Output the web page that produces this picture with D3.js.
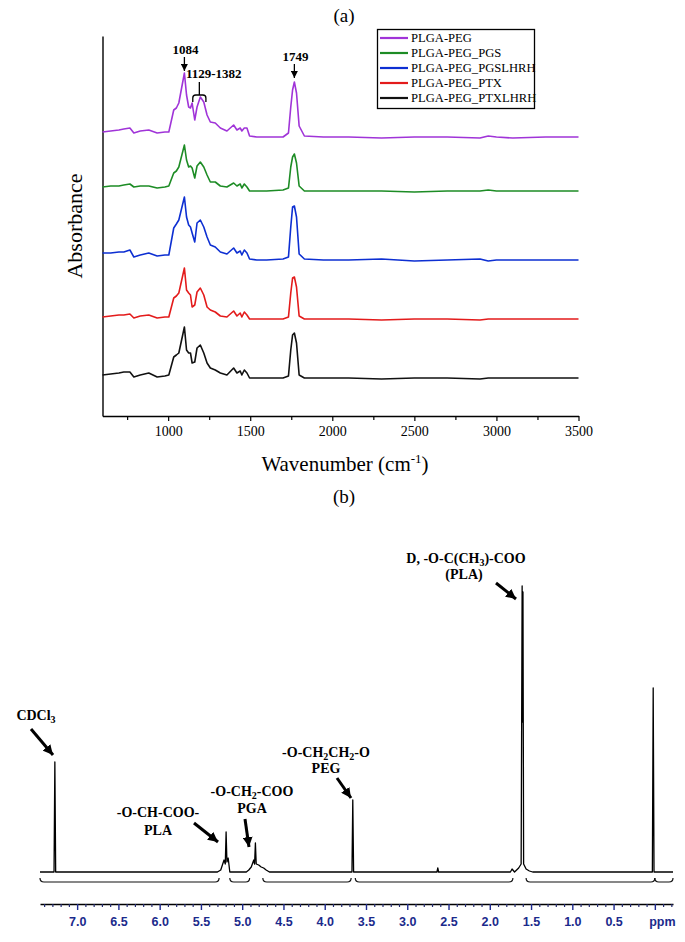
<!DOCTYPE html>
<html><head><meta charset="utf-8">
<script src="https://cdn.jsdelivr.net/npm/d3@7"></script>
<style>body{margin:0;background:#fff}svg{display:block}</style>
</head><body><svg id="c" width="685" height="942"></svg>
<script>
// ---------- Panel (a): FTIR ----------
const wavenumbers = [600,650,700,730,767,791,830,882,933,980,1004,1034,1050,1065,1099,1112,1125,1136,1146,1162,1176,1196,1217,1237,1257,1287,1318,1358,1399,1419,1439,1449,1464,1480,1496,1540,1600,1700,1733,1747,1758,1769,1782,1798,1830,1946,2100,2300,2500,2700,2900,2950,3000,3100,3300,3500];
const absPLGAPEG       = [284,285,286,287,288,283,285,286,283,284,284,306,308,313,343,321,309,308,313,296,309,319,314,301,294,293,288,285,291,286,288,285,288,288,280,279,279,279,283,309,326,334,323,290,280,279,279,278,279,279,278,280,279,278,279,279];
const absPLGAPEG_PGS   = [229,230,230,231,232,229,230,230,228,229,230,243,245,249,271,256,249,250,248,238,250,254,249,241,234,234,230,229,233,230,232,228,232,229,225,225,225,226,228,249,259,262,253,230,225,225,225,225,224,225,225,226,225,225,225,225];
const absPLGAPEG_PGSLHRH = [163,163,164,164,166,159,161,163,160,161,161,188,192,196,219,199,191,189,183,174,193,196,189,179,171,169,164,162,168,163,165,161,166,163,157,156,156,157,159,189,209,210,199,162,157,156,156,157,155,156,157,155,156,156,156,156];
const absPLGAPEG_PTX   = [99,100,101,101,102,98,100,101,98,99,99,118,120,123,148,126,123,121,109,111,124,128,121,109,106,104,100,99,105,100,103,99,104,101,97,97,97,97,99,123,138,139,129,100,97,97,97,96,97,97,96,97,97,97,97,97];
const absPLGAPEG_PTXLHRH = [41,42,43,44,44,39,41,43,39,40,41,59,61,63,89,66,63,63,53,54,68,71,63,53,48,46,43,41,48,43,45,41,46,43,38,38,38,38,40,66,81,83,73,41,38,38,38,37,38,38,37,38,38,38,38,38];
const seriesNames  = ["PLGA-PEG","PLGA-PEG_PGS","PLGA-PEG_PGSLHRH","PLGA-PEG_PTX","PLGA-PEG_PTXLHRH"];
const seriesValues = [absPLGAPEG, absPLGAPEG_PGS, absPLGAPEG_PGSLHRH, absPLGAPEG_PTX, absPLGAPEG_PTXLHRH];
const seriesColors = ["#a034d8","#1d8c25","#0d2fd2","#e31b1b","#111111"];
const irTicks      = [1000,1500,2000,2500,3000,3500];
const irMinorTicks = [750,1250,1750,2250,2750,3250];
const irPeakLabels = [{wn:1099,label:"1084"},{wn:1769,label:"1749"}];
const irBandLabel  = {from:1150,to:1230,label:"1129-1382"};

// ---------- Panel (b): 1H NMR ----------
const nmrPpm = [7.45,7.28,7.27,7.26,5.30,5.26,5.24,5.22,5.205,5.195,5.185,5.17,5.15,4.95,4.92,4.89,4.86,4.85,4.84,4.83,4.80,4.77,4.74,4.71,4.67,3.67,3.66,3.65,2.64,2.63,2.62,1.75,1.73,1.70,1.65,1.62,1.608,1.603,1.598,1.59,1.56,1.52,1.48,0.03,0.02,0.01,-0.22];
const nmrIntensity = [0,0,110,0,0,2,7,12,8,40,10,14,0,0,2,5,12,8,29,8,7,5,4,2,0,0,72,0,0,4,0,0,3,0,4,8,286,150,280,8,3,1,0,0,184,0,0];
const nmrTicks = [7.0,6.5,6.0,5.5,5.0,4.5,4.0,3.5,3.0,2.5,2.0,1.5,1.0,0.5,0.0];
const nmrIntegrals = [[7.45,5.28],[5.15,4.91],[4.75,3.68],[3.63,1.72],[1.56,0.0],[0.0,-0.22]];

const serif = "'Liberation Serif','Times New Roman',serif";
const sans  = "'Liberation Sans',Arial,sans-serif";
const svg = d3.select("#c");
const defs = svg.append("defs");
defs.append("marker").attr("id","ah").attr("markerUnits","userSpaceOnUse")
  .attr("viewBox","0 0 10 10").attr("refX",10).attr("refY",5)
  .attr("markerWidth",7).attr("markerHeight",7).attr("orient","auto")
  .append("path").attr("d","M0,0 L10,5 L0,10 Z").attr("fill","#000");
defs.append("marker").attr("id","ahb").attr("markerUnits","userSpaceOnUse")
  .attr("viewBox","0 0 10 10").attr("refX",10).attr("refY",5)
  .attr("markerWidth",10).attr("markerHeight",10).attr("orient","auto")
  .append("path").attr("d","M0,0 L10,5 L0,10 Z").attr("fill","#000");

// ===== Panel a =====
const xA = d3.scaleLinear().domain([600,3500]).range([102.5,578.5]);
const yA = d3.scaleLinear().domain([0,380]).range([416,36]);
const gA = svg.append("g");

svg.append("text").attr("x",344).attr("y",22).attr("text-anchor","middle")
  .attr("font-family",serif).attr("font-size",19).text("(a)");

const axA = gA.append("g").attr("transform","translate(0,416)")
  .call(d3.axisBottom(xA).tickValues(irTicks).tickSize(5).tickSizeOuter(0).tickPadding(5).tickFormat(d3.format("d")));
axA.select(".domain").attr("stroke","#000").attr("stroke-width",1.4);
axA.selectAll("text").attr("font-family",serif).attr("font-size",14).attr("fill","#000");
axA.selectAll(".tick line").attr("stroke","#000").attr("stroke-width",1.2);
const axAm = gA.append("g").attr("transform","translate(0,416)")
  .call(d3.axisBottom(xA).tickValues(irMinorTicks).tickSize(4).tickFormat(""));
axAm.select(".domain").remove();
axAm.selectAll(".tick line").attr("stroke","#000").attr("stroke-width",1.2);
const ayA = gA.append("g").attr("transform","translate(102.5,0)")
  .call(d3.axisLeft(yA).tickValues([]).tickSizeOuter(0));
ayA.select(".domain").attr("stroke","#000").attr("stroke-width",1.4);

const xt = gA.append("text").attr("x",345).attr("y",471).attr("text-anchor","middle")
  .attr("font-family",serif).attr("font-size",21);
xt.append("tspan").text("Wavenumber (cm");
xt.append("tspan").attr("font-size",13).attr("dy",-8).text("-1");
xt.append("tspan").attr("dy",8).text(")");
gA.append("text").attr("transform","translate(82,226) rotate(-90)").attr("text-anchor","middle")
  .attr("font-family",serif).attr("font-size",22).text("Absorbance");

const lineA = d3.line().x((d,i)=>xA(wavenumbers[i])).y(d=>yA(d));
seriesValues.forEach((vals,k)=>{
  gA.append("path").datum(vals).attr("d",lineA).attr("fill","none")
    .attr("stroke",seriesColors[k]).attr("stroke-width",1.6).attr("stroke-linejoin","round");
});

// legend
const lg = gA.append("g");
lg.append("rect").attr("x",377.5).attr("y",29.5).attr("width",157).attr("height",79)
  .attr("fill","#fff").attr("stroke","#000").attr("stroke-width",1.3);
seriesNames.forEach((n,k)=>{
  const y = 38 + k*15;
  lg.append("line").attr("x1",380).attr("x2",408).attr("y1",y).attr("y2",y)
    .attr("stroke",seriesColors[k]).attr("stroke-width",2.2);
  lg.append("text").attr("x",411).attr("y",y+4.3).attr("font-family",serif)
    .attr("font-size",12.6).text(n);
});

// annotations
const peakTopY = [71,78], peakTextY = [54,61];
irPeakLabels.forEach((p,i)=>{
  const x = xA(p.wn);
  gA.append("text").attr("x",x+1).attr("y",peakTextY[i]).attr("text-anchor","middle")
    .attr("font-family",serif).attr("font-weight","bold").attr("font-size",13).text(p.label);
  gA.append("line").attr("x1",x).attr("x2",x).attr("y1",peakTextY[i]+3).attr("y2",peakTopY[i])
    .attr("stroke","#000").attr("stroke-width",1.3).attr("marker-end","url(#ah)");
});
{
  const x1 = xA(irBandLabel.from), x2 = xA(irBandLabel.to), xm = (x1+x2)/2;
  gA.append("text").attr("x",186).attr("y",78).attr("font-family",serif)
    .attr("font-weight","bold").attr("font-size",13).text(irBandLabel.label);
  gA.append("line").attr("x1",xm).attr("x2",xm).attr("y1",82).attr("y2",95)
    .attr("stroke","#000").attr("stroke-width",1.3);
  gA.append("path").attr("d",`M${x1},102 L${x1},98 Q${x1},95 ${x1+3},95 L${x2-3},95 Q${x2},95 ${x2},98 L${x2},102`)
    .attr("fill","none").attr("stroke","#000").attr("stroke-width",1.3);
}

// ===== Panel b =====
const xB = d3.scaleLinear().domain([7.45,-0.22]).range([40,673]);
const yB = d3.scaleLinear().domain([0,300]).range([872,572]);
const gB = svg.append("g");
svg.append("text").attr("x",344).attr("y",503).attr("text-anchor","middle")
  .attr("font-family",serif).attr("font-size",19).text("(b)");

const axB = gB.append("g").attr("transform","translate(0,904)")
  .call(d3.axisBottom(xB).tickValues(nmrTicks).tickSize(6).tickSizeOuter(0).tickPadding(7)
    .tickFormat(d=> d===0 ? "ppm" : d3.format(".1f")(d)));
axB.select(".domain").attr("stroke","#000").attr("stroke-width",1.5);
axB.selectAll(".tick line").attr("stroke","#1e2a90").attr("stroke-width",1.4);
axB.selectAll("text").attr("font-family",sans).attr("font-weight","bold")
  .attr("font-size",12.5).attr("fill","#1b2a8c");
axB.selectAll(".tick").filter(d=>d===0).select("text").attr("dx",7);
const nmrMinor = d3.range(-2,75).map(i=>i/10).filter(v=>Math.abs(v*2-Math.round(v*2))>1e-6);
const axBm = gB.append("g").attr("transform","translate(0,904)")
  .call(d3.axisBottom(xB).tickValues(nmrMinor).tickSize(3).tickFormat(""));
axBm.select(".domain").remove();
axBm.selectAll(".tick line").attr("stroke","#222a70").attr("stroke-width",1.2);

// integration trace
nmrIntegrals.forEach(([a,b])=>{
  const x1 = xB(a), x2 = xB(b), y = 882;
  gB.append("path").attr("d",`M${x1},${y-4} Q${x1},${y} ${x1+4},${y} L${x2-4},${y} Q${x2},${y} ${x2},${y-4}`)
    .attr("fill","none").attr("stroke","#111").attr("stroke-width",1.2);
});

const lineB = d3.line().x((d,i)=>xB(nmrPpm[i])).y(d=>yB(d));
gB.append("path").datum(nmrIntensity).attr("d",lineB).attr("fill","none")
  .attr("stroke","#000").attr("stroke-width",1.3).attr("stroke-linejoin","round");

// NMR labels
function sub(s){return {sub:s};}
function arrow(x1,y1,x2,y2){
  gB.append("line").attr("x1",x1).attr("y1",y1).attr("x2",x2).attr("y2",y2)
    .attr("stroke","#000").attr("stroke-width",3).attr("marker-end","url(#ahb)");
}
function richText(x,y,parts){
  const t = gB.append("text").attr("x",x).attr("y",y).attr("text-anchor","middle")
    .attr("font-family",serif).attr("font-weight","bold").attr("font-size",14);
  let shifted=false;
  parts.forEach(p=>{
    if (typeof p === "string"){ const s=t.append("tspan").text(p); if(shifted){s.attr("dy",-3);shifted=false;} }
    else { t.append("tspan").attr("font-size",10).attr("dy",3).text(p.sub); shifted=true; }
  });
}
richText(36,720,["CDCl",sub("3")]);
arrow(31,729,53,755);
richText(158,817,["-O-CH-COO-"]);
richText(158,835,["PLA"]);
arrow(194,823,218,842);
richText(252,796,["-O-CH",sub("2"),"-COO"]);
richText(252,813,["PGA"]);
arrow(245,819,249,847);
richText(326,757,["-O-CH",sub("2"),"CH",sub("2"),"-O"]);
richText(326,773,["PEG"]);
arrow(337,778,351,798);
richText(466,563,["D, -O-C(CH",sub("3"),")-COO"]);
richText(464,579,["(PLA)"]);
arrow(496,583,516,599);
</script></body></html>
